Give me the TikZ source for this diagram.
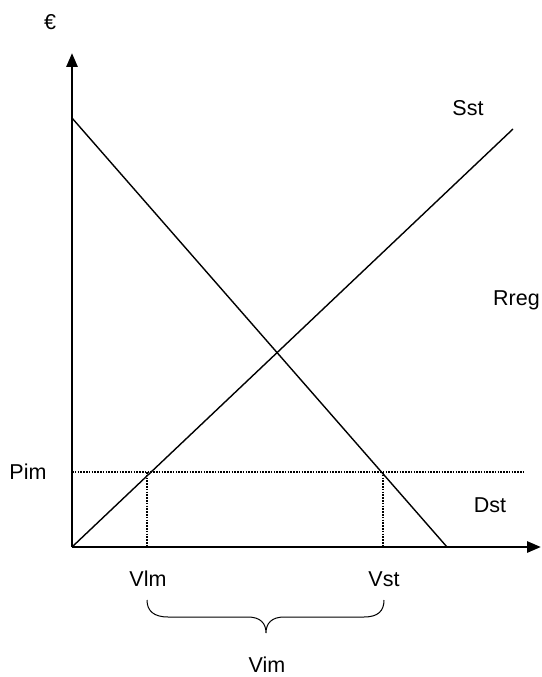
\documentclass[tikz,border=0pt]{standalone}
\usepackage{fontspec}
\setmainfont{Liberation Sans}
\usetikzlibrary{arrows.meta}
\begin{document}
\begin{tikzpicture}[x=1pt,y=-1pt,
  lbl/.style={font=\fontsize{21.5}{25}\selectfont, inner sep=0pt},
  axisline/.style={line width=2.8pt, -{Triangle[length=14pt,width=11pt]}},
  curve/.style={line width=1.4pt},
  dotline/.style={line width=2.2pt, dash pattern=on 1.6pt off 1.2pt}]
\useasboundingbox (0,0) rectangle (541,677);
\fill[white] (0,0) rectangle (541,677);
% coordinates
\coordinate (O) at (72,547);
\coordinate (ytop) at (72,53);
\coordinate (xend) at (541,547);
\coordinate (dtop) at (72,118);
\coordinate (dbot) at (447,547);
\coordinate (send) at (513,129);
\coordinate (pimL) at (72,472);
\coordinate (pimR) at (525,472);
\coordinate (q1top) at (147,472);
\coordinate (q1bot) at (147,547);
\coordinate (q2top) at (383,472);
\coordinate (q2bot) at (383,547);
% axes
\draw[axisline] (O) -- (ytop);
\draw[axisline] (O) -- (xend);
% demand and supply
\draw[curve] (dtop) -- (dbot);
\draw[curve] (O) -- (send);
% dotted lines
\draw[dotline] (pimL) -- (pimR);
\draw[dotline] (q1top) -- (q1bot);
\draw[dotline] (q2top) -- (q2bot);
% labels
\node[lbl] (euro) at (50,22) {€};
\node[lbl] (sst) at (468,108) {Sst};
\node[lbl, anchor=east] (rreg) at (540,300) {Rreg};
\node[lbl] (pim) at (28,472) {Pim};
\node[lbl] (dst) at (490,505) {Dst};
\node[lbl] (vlm) at (148,579) {Vlm};
\node[lbl] (vst) at (384,579) {Vst};
\node[lbl] (vim) at (267,665) {Vim};
% brace
\draw[line width=1pt] (147,600) .. controls (147,611) and (154,617) .. (168,617)
  -- (248,617) .. controls (260,617) and (266,623) .. (266,633)
  .. controls (266,623) and (272,617) .. (284,617)
  -- (364,617) .. controls (378,617) and (384,611) .. (384,600);
\end{tikzpicture}
\end{document}
